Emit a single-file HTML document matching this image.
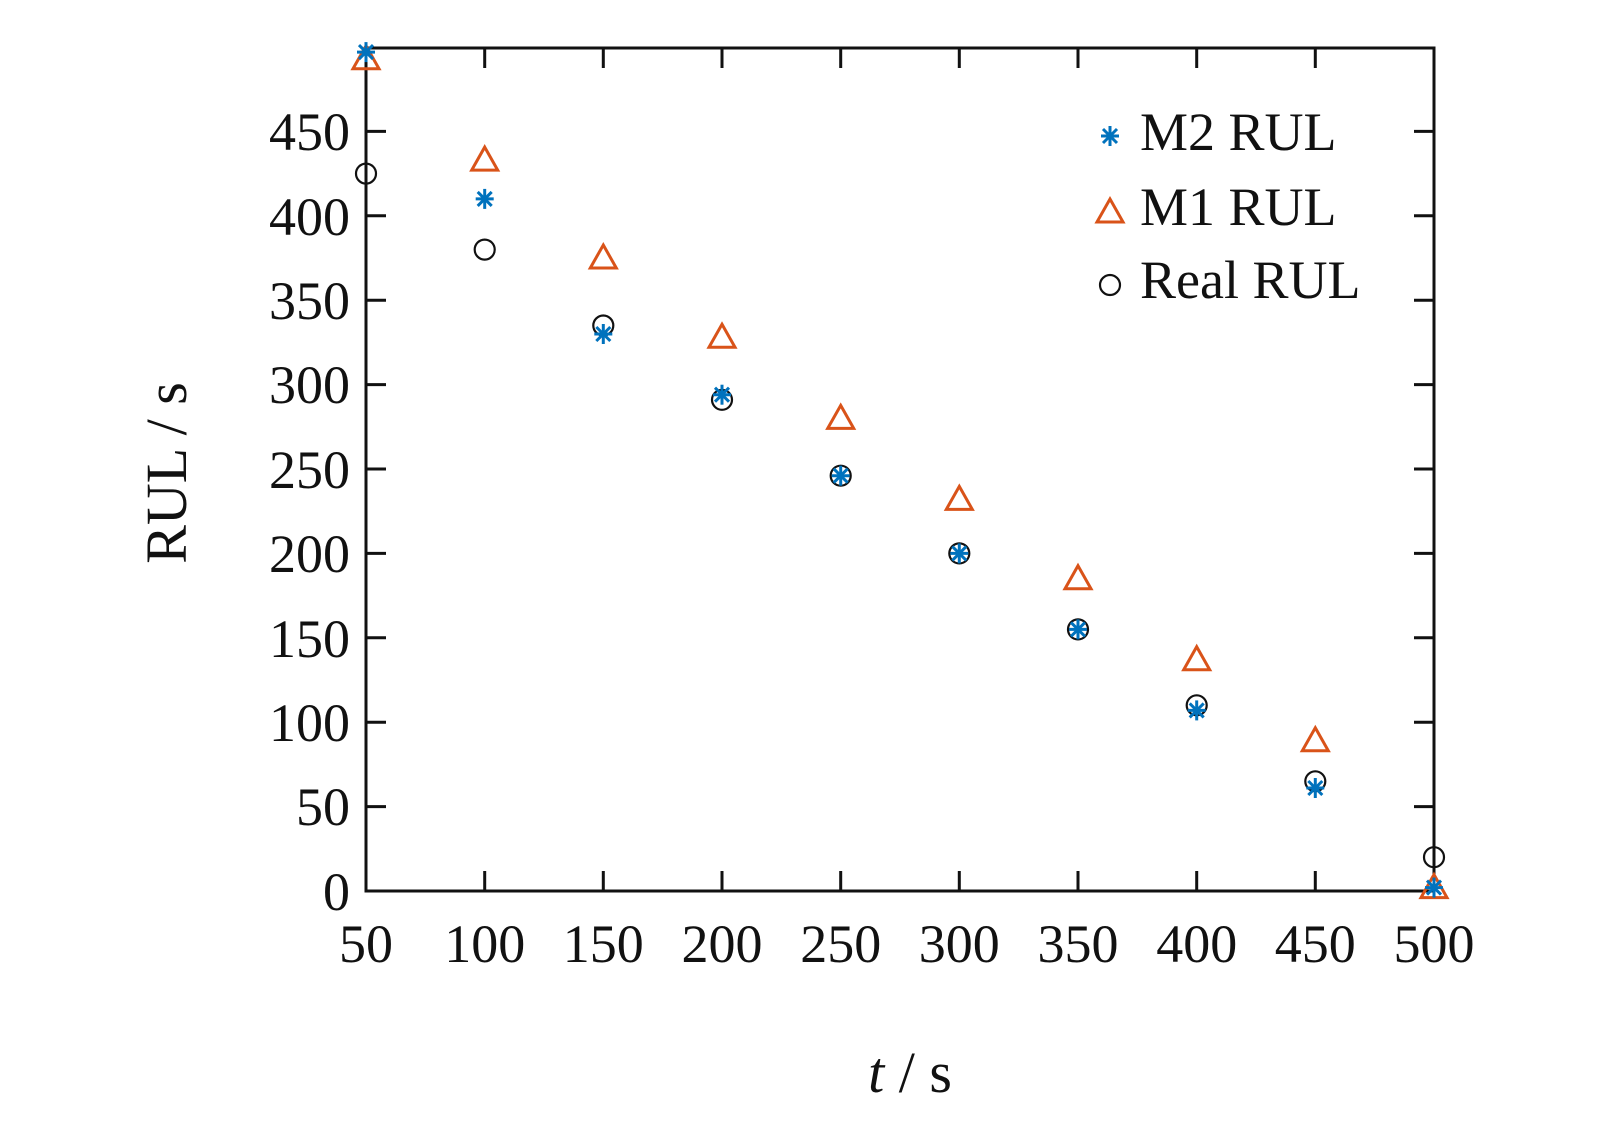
<!DOCTYPE html>
<html><head><meta charset="utf-8"><style>html,body{margin:0;padding:0;background:#fff}</style></head>
<body>
<svg width="1623" height="1116" viewBox="0 0 1623 1116" xmlns="http://www.w3.org/2000/svg" font-family="Liberation Serif, serif">
<defs>
<g id="ast" stroke="#0072BD" stroke-width="3" fill="none">
<line x1="-9" y1="0" x2="9" y2="0"/><line x1="0" y1="-10" x2="0" y2="10"/>
<line x1="-7" y1="-7" x2="7" y2="7"/><line x1="-7" y1="7" x2="7" y2="-7"/></g>
<polygon id="tri" points="0,-13 13,10 -13,10" fill="none" stroke="#D95319" stroke-width="3"/>
<circle id="cir" r="10" fill="none" stroke="#111" stroke-width="2.2"/>
</defs>
<rect x="366" y="48" width="1068" height="843" fill="none" stroke="#111" stroke-width="3"/>
<g stroke="#111" stroke-width="3">
<path d="M366 891h20M366 806.6h20M366 722.2h20M366 637.8h20M366 553.4h20M366 469h20M366 384.6h20M366 300.2h20M366 215.8h20M366 131.4h20"/>
<path d="M1434 891h-20M1434 806.6h-20M1434 722.2h-20M1434 637.8h-20M1434 553.4h-20M1434 469h-20M1434 384.6h-20M1434 300.2h-20M1434 215.8h-20M1434 131.4h-20"/>
<path d="M484.7 891v-20M603.3 891v-20M722 891v-20M840.7 891v-20M959.3 891v-20M1078 891v-20M1196.7 891v-20M1315.3 891v-20"/>
<path d="M484.7 48v20M603.3 48v20M722 48v20M840.7 48v20M959.3 48v20M1078 48v20M1196.7 48v20M1315.3 48v20"/>
</g>
<g font-size="54" fill="#111" text-anchor="end">
<text x="350" y="910">0</text><text x="350" y="825">50</text><text x="350" y="741">100</text><text x="350" y="657">150</text>
<text x="350" y="572">200</text><text x="350" y="488">250</text><text x="350" y="403">300</text><text x="350" y="319">350</text>
<text x="350" y="235">400</text><text x="350" y="150">450</text>
</g>
<g font-size="54" fill="#111" text-anchor="middle">
<text x="366" y="962">50</text><text x="484.7" y="962">100</text><text x="603.3" y="962">150</text><text x="722" y="962">200</text>
<text x="840.7" y="962">250</text><text x="959.3" y="962">300</text><text x="1078" y="962">350</text><text x="1196.7" y="962">400</text>
<text x="1315.3" y="962">450</text><text x="1434" y="962">500</text>
</g>
<text x="910" y="1092" font-size="58" text-anchor="middle" fill="#111"><tspan font-style="italic">t</tspan> / s</text>
<text transform="translate(186,473) rotate(-90)" font-size="58" text-anchor="middle" fill="#111">RUL / s</text>
<g>
<use href="#cir" x="366" y="173.6"/><use href="#cir" x="484.7" y="249.6"/><use href="#cir" x="603.3" y="325.5"/>
<use href="#cir" x="722" y="399.8"/><use href="#cir" x="840.7" y="475.7"/><use href="#cir" x="959.3" y="553.4"/>
<use href="#cir" x="1078" y="629.4"/><use href="#cir" x="1196.7" y="705.3"/><use href="#cir" x="1315.3" y="781.3"/>
<use href="#cir" x="1434" y="857.2"/>
<use href="#tri" x="366" y="58.8"/><use href="#tri" x="484.7" y="160.1"/><use href="#tri" x="603.3" y="258"/>
<use href="#tri" x="722" y="337.3"/><use href="#tri" x="840.7" y="418.4"/><use href="#tri" x="959.3" y="499.4"/>
<use href="#tri" x="1078" y="578.7"/><use href="#tri" x="1196.7" y="659.7"/><use href="#tri" x="1315.3" y="740.8"/>
<use href="#tri" x="1434" y="887.6"/>
<use href="#ast" x="366" y="52.1"/><use href="#ast" x="484.7" y="198.9"/><use href="#ast" x="603.3" y="334"/>
<use href="#ast" x="722" y="394.7"/><use href="#ast" x="840.7" y="475.7"/><use href="#ast" x="959.3" y="553.4"/>
<use href="#ast" x="1078" y="629.4"/><use href="#ast" x="1196.7" y="710.4"/><use href="#ast" x="1315.3" y="788"/>
<use href="#ast" x="1434" y="887.6"/>
</g>
<use href="#ast" x="1110" y="136"/>
<use href="#tri" x="1110" y="212"/>
<use href="#cir" x="1110" y="285"/>
<g font-size="54" fill="#111">
<text x="1140" y="150">M2 RUL</text>
<text x="1140" y="225">M1 RUL</text>
<text x="1140" y="298">Real RUL</text>
</g>
</svg>
</body></html>
